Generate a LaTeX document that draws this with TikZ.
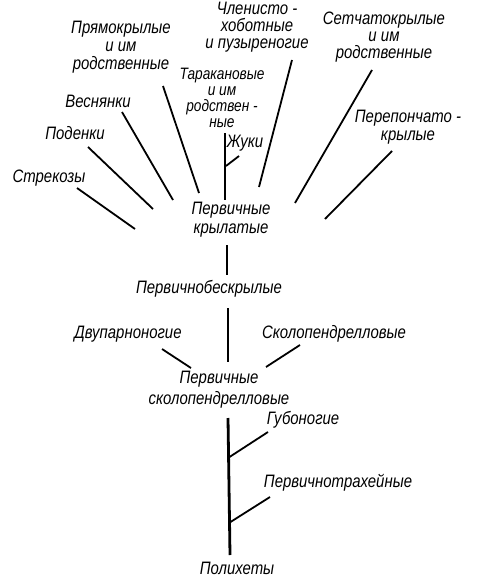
\documentclass[tikz,border=0pt]{standalone}
\usepackage{fontspec}
\setmainfont{Liberation Sans}[FakeStretch=0.83]
\begin{document}
\begin{tikzpicture}[x=1pt,y=-1pt,
  lbl/.style={font=\itshape\fontsize{18}{17}\selectfont, inner sep=0pt, align=center},
  tight/.style={font=\itshape\fontsize{16.5}{16}\selectfont},
  ln/.style={line width=1.8pt},
  trunk/.style={line width=2.8pt}]
\useasboundingbox (0,0) rectangle (485,578);
% labels
\node[lbl] (strek) at (49,178) {Стрекозы};
\node[lbl] (poden) at (75,133) {Поденки};
\node[lbl] (vesn) at (98,101) {Веснянки};
\node[lbl,font=\itshape\fontsize{18}{18}\selectfont] (pryam) at (121,47) {Прямокрылые\\и им\\родственные};
\node[lbl,tight] (tarak) at (222,98) {Таракановые\\и им\\родствен -\\ные};
\node[lbl] (zhuki) at (245,143) {Жуки};
\node[lbl] (chlen) at (257,27) {Членисто -\\хоботные\\и пузыреногие};
\node[lbl] (setch) at (384,37.5) {Сетчатокрылые\\и им\\родственные};
\node[lbl,font=\itshape\fontsize{18}{18}\selectfont] (perep) at (408,127) {Перепончато -\\крылые};
\node[lbl,font=\itshape\fontsize{18}{19}\selectfont] (pkryl) at (231,219.5) {Первичные\\крылатые};
\node[lbl] (pbeskr) at (209,289) {Первичнобескрылые};
\node[lbl] (dvup) at (128,334) {Двупарноногие};
\node[lbl] (skolo) at (334,334) {Сколопендрелловые};
\node[lbl,font=\itshape\fontsize{18}{21}\selectfont] (pskolo) at (219,389.5) {Первичные\\сколопендрелловые};
\node[lbl] (gubo) at (303,420) {Губоногие};
\node[lbl] (ptrach) at (338,483) {Первичнотрахейные};
\node[lbl] (poli) at (237,568) {Полихеты};
% connector end points
\coordinate (a1) at (77,188);  \coordinate (a2) at (135,229);
\coordinate (b1) at (88,147);  \coordinate (b2) at (153,209);
\coordinate (c1) at (122,112); \coordinate (c2) at (173,200);
\coordinate (d1) at (163,86);  \coordinate (d2) at (199,193);
\coordinate (e1) at (225,133); \coordinate (e2) at (225,200);
\coordinate (e3) at (226,166); \coordinate (e4) at (239,156);
\coordinate (f1) at (292,60);  \coordinate (f2) at (259,187);
\coordinate (g1) at (372,70);  \coordinate (g2) at (295,203);
\coordinate (h1) at (392,151); \coordinate (h2) at (325,219);
\coordinate (i1) at (227,245); \coordinate (i2) at (227,275);
\coordinate (j1) at (228,308); \coordinate (j2) at (228,362);
\coordinate (k1) at (162,349); \coordinate (k2) at (191,368);
\coordinate (l1) at (300,345); \coordinate (l2) at (266,367);
\coordinate (m1) at (228,418); \coordinate (m2) at (230,555);
\coordinate (n1) at (229.5,457); \coordinate (n2) at (268,432);
\coordinate (o1) at (230.5,522); \coordinate (o2) at (270,497);
% connectors
\draw[ln] (a1) -- (a2);
\draw[ln] (b1) -- (b2);
\draw[ln] (c1) -- (c2);
\draw[ln] (d1) -- (d2);
\draw[trunk] (e1) -- (e2);
\draw[ln] (e3) -- (e4);
\draw[ln] (f1) -- (f2);
\draw[ln] (g1) -- (g2);
\draw[ln] (h1) -- (h2);
\draw[ln] (i1) -- (i2);
\draw[trunk] (j1) -- (j2);
\draw[ln] (k1) -- (k2);
\draw[ln] (l1) -- (l2);
\draw[trunk] (m1) -- (m2);
\draw[ln] (n1) -- (n2);
\draw[ln] (o1) -- (o2);
\end{tikzpicture}
\end{document}
